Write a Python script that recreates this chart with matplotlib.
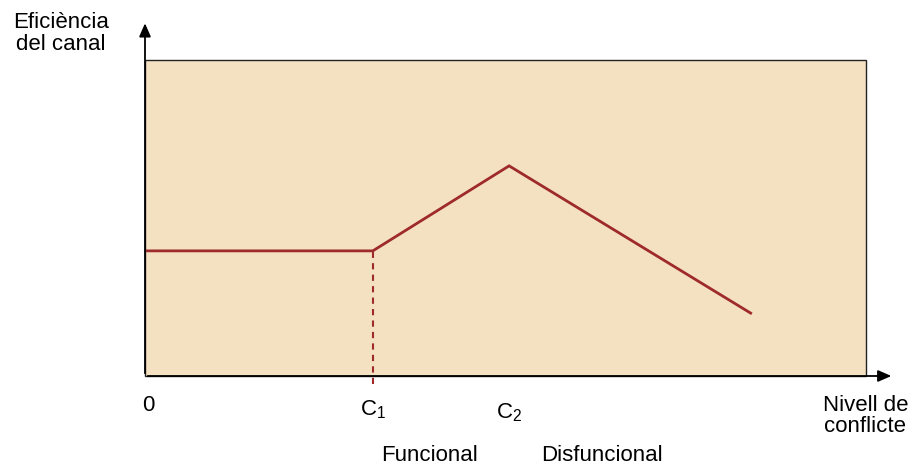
import matplotlib
matplotlib.use("Agg")
import matplotlib.pyplot as plt
from matplotlib.patches import Rectangle

plt.rcParams['font.family'] = ['Liberation Sans', 'DejaVu Sans']
plt.rcParams['mathtext.default'] = 'regular'

# Data (conceptual units: conflict level 0-100, channel efficiency 0-100)
curve_x = [0, 31.6, 50.5, 84.0]
curve_y = [39.6, 39.6, 66.5, 19.9]
c1_x = 31.6
c2_x = 50.5
tick_labels = ["0", "C$_1$", "C$_2$"]
tick_pos = [0.4, 31.6, 50.5]
zone_labels = ["Funcional", "Disfuncional"]
zone_pos = [39.4, 63.4]

W, H = 912, 468
fig = plt.figure(figsize=(W / 100, H / 100), dpi=100)
ax = fig.add_axes([145 / W, (H - 376) / H, 721 / W, 316 / H])
ax.set_xlim(0, 100)
ax.set_ylim(0, 100)
ax.axis('off')

fill = '#F4E1C2'
red = '#9E2A2B'

ax.add_patch(Rectangle((0, 0), 100, 100, facecolor=fill, edgecolor='#222222', lw=1.0,
                       zorder=1, clip_on=False))

ax.plot(curve_x, curve_y, color=red, lw=2.0, zorder=3, solid_joinstyle='miter')
ax.plot([c1_x, c1_x], [-2.5, curve_y[1]], color=red, lw=1.5, ls=(0, (3, 2.5)), zorder=3, clip_on=False)

# axes arrows
ax.annotate('', xy=(103.9, 0), xytext=(0, 0),
            arrowprops=dict(arrowstyle='-|>,head_length=0.8,head_width=0.35', color='black', lw=1.3),
            annotation_clip=False, zorder=4)
ax.annotate('', xy=(0, 112.5), xytext=(0, 0),
            arrowprops=dict(arrowstyle='-|>,head_length=0.8,head_width=0.35', color='black', lw=1.3),
            annotation_clip=False, zorder=4)

fs = 16
for lab, xp, yp in zip(tick_labels, tick_pos, [-9.2, -10.8, -11.7]):
    ax.text(xp, yp, lab, ha='center', va='center', fontsize=fs, clip_on=False)

for lab, xp in zip(zone_labels, zone_pos):
    ax.text(xp, -25.3, lab, ha='center', va='center', fontsize=fs, clip_on=False)

ax.text(99.9, -12.7, "Nivell de\nconflicte", ha='center', va='center', fontsize=fs,
        linespacing=1.0, clip_on=False)
ax.text(-11.65, 108.5, "Eficiència\ndel canal", ha='center', va='center', fontsize=fs,
        linespacing=1.05, clip_on=False)

fig.savefig('out.png', dpi=100)
